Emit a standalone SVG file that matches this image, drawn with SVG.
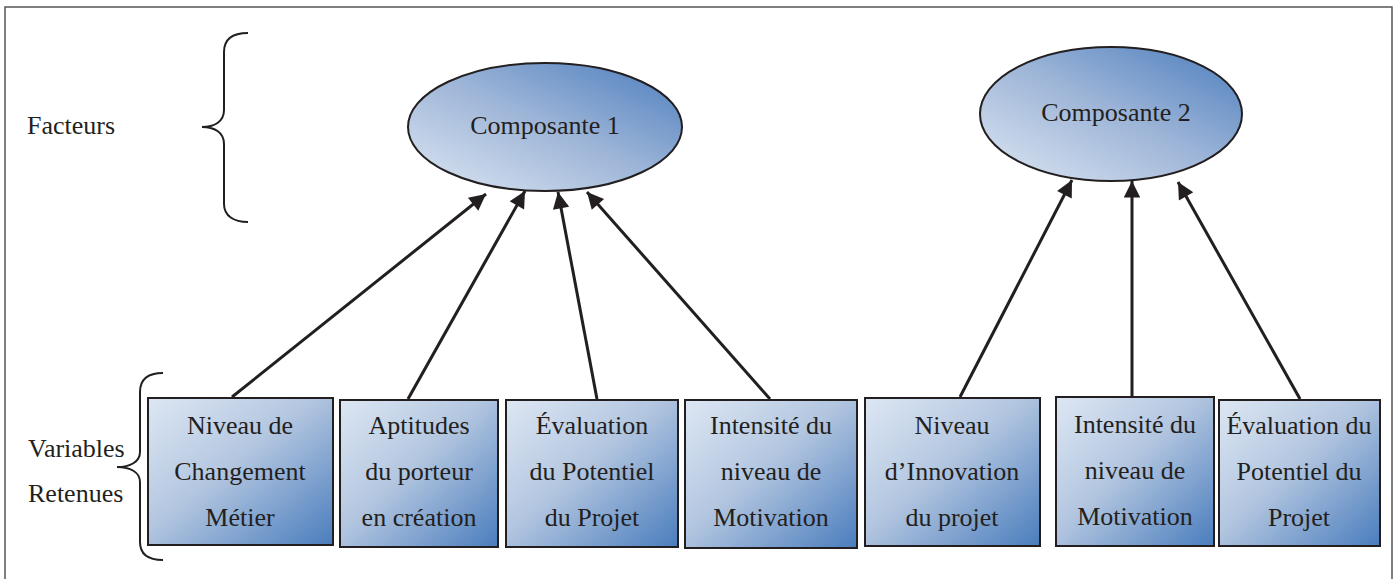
<svg xmlns="http://www.w3.org/2000/svg" width="1399" height="579" viewBox="0 0 1399 579" font-family="'Liberation Serif', 'DejaVu Serif', serif">
<defs>
<linearGradient id="gBox" x1="0" y1="0" x2="1" y2="1">
<stop offset="0" stop-color="#dde7f3"/>
<stop offset="0.45" stop-color="#b3c6e0"/>
<stop offset="1" stop-color="#4a7dbd"/>
</linearGradient>
<linearGradient id="gEll" x1="0" y1="1" x2="1" y2="0">
<stop offset="0" stop-color="#dde7f3"/>
<stop offset="0.5" stop-color="#9fb6d8"/>
<stop offset="1" stop-color="#4a7dbd"/>
</linearGradient>
<marker id="ah" viewBox="0 0 10 10" refX="10" refY="5" markerWidth="6.5" markerHeight="5.5" markerUnits="strokeWidth" orient="auto">
<path d="M0,0 L10,5 L0,10 z" fill="#231f20"/>
</marker>
</defs>
<style>
text{font-family:'Liberation Serif','DejaVu Serif',serif;font-size:26px;fill:#231f20}
.c{text-anchor:middle}
.box{fill:url(#gBox);stroke:#231f20;stroke-width:2}
.ell{fill:url(#gEll);stroke:#231f20;stroke-width:2}
.brace{fill:none;stroke:#231f20;stroke-width:2}
.conn line{stroke:#231f20;stroke-width:3;marker-end:url(#ah)}
</style>
<rect x="5" y="7" width="1387" height="585" fill="#fff" stroke="#555" stroke-width="1.5"/>

<g id="labels">
<text x="27" y="134">Facteurs</text>
<text x="28" y="457">Variables</text>
<text x="28" y="502">Retenues</text>
<path class="brace" d="M248,33 C234,33 224,38 224,52 L224,110 C224,122 214,127 202,127 C214,127 224,132 224,144 L224,204 C224,216 234,222 248,222"/>
<path class="brace" d="M163,373 C149,373 140,378 140,392 L140,452 C140,462 130,467 117,467 C130,467 140,472 140,482 L140,542 C140,555 149,560 163,560"/>
</g>

<g id="comp1">
<ellipse class="ell" cx="545" cy="127" rx="137" ry="64"/>
<text class="c" x="545" y="134">Composante 1</text>
</g>
<g id="comp2">
<ellipse class="ell" cx="1111" cy="114" rx="131" ry="67"/>
<text class="c" x="1116" y="121">Composante 2</text>
</g>

<g id="v1">
<rect class="box" x="148" y="398" width="185" height="147"/>
<text class="c" x="240" y="434">Niveau de</text>
<text class="c" x="240" y="480">Changement</text>
<text class="c" x="240" y="526">Métier</text>
</g>
<g id="v2">
<rect class="box" x="340" y="400" width="158" height="147"/>
<text class="c" x="419" y="434">Aptitudes</text>
<text class="c" x="419" y="480">du porteur</text>
<text class="c" x="419" y="526">en création</text>
</g>
<g id="v3">
<rect class="box" x="506" y="400" width="172" height="147"/>
<text class="c" x="592" y="434">Évaluation</text>
<text class="c" x="592" y="480">du Potentiel</text>
<text class="c" x="592" y="526">du Projet</text>
</g>
<g id="v4">
<rect class="box" x="685" y="400" width="172" height="148"/>
<text class="c" x="771" y="434">Intensité du</text>
<text class="c" x="771" y="480">niveau de</text>
<text class="c" x="771" y="526">Motivation</text>
</g>
<g id="v5">
<rect class="box" x="865" y="398" width="175" height="148"/>
<text class="c" x="952" y="434">Niveau</text>
<text class="c" x="952" y="480">d’Innovation</text>
<text class="c" x="952" y="526">du projet</text>
</g>
<g id="v6">
<rect class="box" x="1056" y="397" width="158" height="149"/>
<text class="c" x="1135" y="433">Intensité du</text>
<text class="c" x="1135" y="479">niveau de</text>
<text class="c" x="1135" y="525">Motivation</text>
</g>
<g id="v7">
<rect class="box" x="1219" y="400" width="161" height="146"/>
<text class="c" x="1299" y="434">Évaluation du</text>
<text class="c" x="1299" y="480">Potentiel du</text>
<text class="c" x="1299" y="526">Projet</text>
</g>

<g id="connectors" class="conn">
<line x1="232" y1="397" x2="486" y2="194"/>
<line x1="408" y1="399" x2="525" y2="191"/>
<line x1="597" y1="399" x2="558" y2="192"/>
<line x1="770" y1="399" x2="587" y2="192"/>
<line x1="960" y1="397" x2="1072" y2="180"/>
<line x1="1132" y1="396" x2="1132" y2="181"/>
<line x1="1300" y1="399" x2="1178" y2="182"/>
</g>
</svg>
